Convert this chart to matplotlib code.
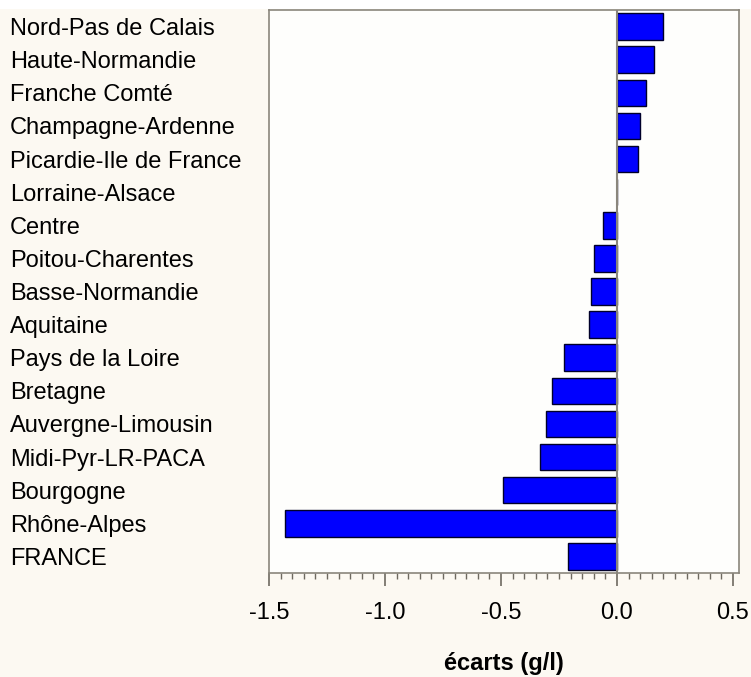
import numpy as np
import matplotlib
matplotlib.use("Agg")
import matplotlib.pyplot as plt
from matplotlib.ticker import MultipleLocator
from matplotlib.patches import Rectangle

regions = ["Nord-Pas de Calais", "Haute-Normandie", "Franche Comté",
           "Champagne-Ardenne", "Picardie-Ile de France", "Lorraine-Alsace",
           "Centre", "Poitou-Charentes", "Basse-Normandie", "Aquitaine",
           "Pays de la Loire", "Bretagne", "Auvergne-Limousin",
           "Midi-Pyr-LR-PACA", "Bourgogne", "Rhône-Alpes", "FRANCE"]
ecarts = [0.20, 0.16, 0.125, 0.10, 0.09, 0.0,
          -0.06, -0.10, -0.11, -0.122,
          -0.23, -0.28, -0.308,
          -0.33, -0.49, -1.43, -0.21]
xticks = [-1.5, -1.0, -0.5, 0.0, 0.5]

plt.rcParams['font.family'] = ['Liberation Sans', 'DejaVu Sans']

bg = '#fcf9f2'
fig = plt.figure(figsize=(7.51, 6.77), dpi=100, facecolor=bg)
fig.patches.append(Rectangle((0, 1 - 9 / 677), 1, 9 / 677, transform=fig.transFigure,
                             facecolor='white', edgecolor='none', zorder=-1))
ax = fig.add_axes([269 / 751, 104 / 677, 470 / 751, 563 / 677])
ax.set_facecolor('#fefefc')

y = np.arange(len(regions))
ax.barh(y, ecarts, height=0.8, color='#0000ff', edgecolor='#00002a', linewidth=1.0, zorder=2)
ax.axvline(0, color='#8a867c', linewidth=1.5, zorder=3)

ax.set_xlim(-1.5, 0.526)
ax.set_ylim(16.5, -0.5)

ax.set_yticks(y, regions)
ax.tick_params(axis='y', length=0, pad=259 * 0.72, labelsize=17)
for lbl in ax.get_yticklabels():
    lbl.set_horizontalalignment('left')

ax.set_xticks(xticks, [f"{v:.1f}" for v in xticks])
ax.xaxis.set_minor_locator(MultipleLocator(0.05))
ax.tick_params(axis='x', which='major', length=9, width=1.2, color='#6e6a60',
               direction='out', pad=12, labelsize=17)
ax.tick_params(axis='x', which='minor', length=4.5, width=1, color='#6e6a60', direction='out')

for s in ax.spines.values():
    s.set_color('#8a867c')
    s.set_linewidth(1.2)

ax.set_xlabel("écarts (g/l)", fontsize=17, fontweight='bold', labelpad=20)

fig.savefig("out.png", dpi=100, facecolor=bg)
